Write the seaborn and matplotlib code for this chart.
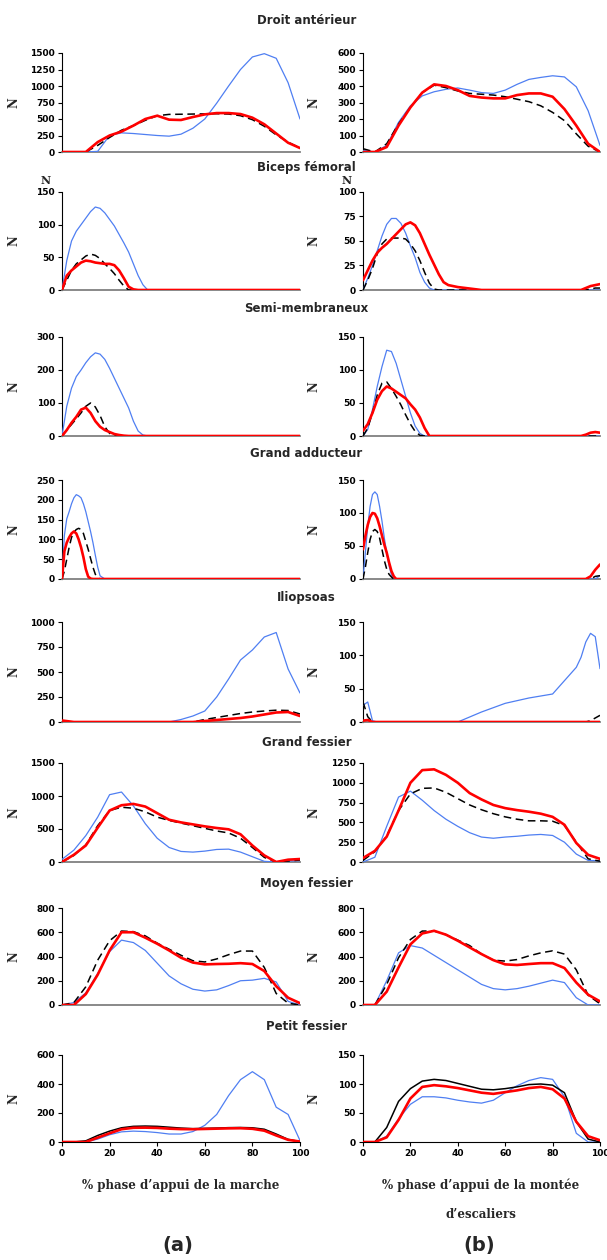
import matplotlib
matplotlib.use("Agg")
import matplotlib.pyplot as plt
import seaborn as sns

# -----------------------------------------
# x grids (% stance phase)
# -----------------------------------------
pct5 = [0, 5, 10, 15, 20, 25, 30, 35, 40, 45, 50, 55, 60, 65, 70, 75, 80, 85, 90, 95, 100]
pct_fine = [0, 2, 4, 6, 8, 10, 12, 14, 16, 18, 20, 22, 24, 26, 28, 30, 32, 34, 36, 38, 40,
            50, 60, 70, 80, 90, 92, 94, 96, 98, 100]
pct_narrow = [0, 1, 2, 3, 4, 5, 6, 7, 8, 9, 10, 11, 12, 13, 14, 15, 16,
              18, 20, 30, 40, 50, 60, 70, 80, 90, 92, 94, 96, 98, 100]

muscles = ["Droit antérieur", "Biceps fémoral", "Semi-membraneux", "Grand adducteur",
           "Iliopsoas", "Grand fessier", "Moyen fessier", "Petit fessier"]

# -----------------------------------------
# Droit antérieur (N)
# -----------------------------------------
da_w_blue = [0, 0, 0, 10, 250, 290, 280, 265, 250, 240, 270, 360, 500, 740, 1000, 1250, 1440, 1490, 1420, 1050, 500]
da_w_red = [0, 0, 0, 150, 250, 310, 400, 500, 550, 490, 485, 530, 570, 590, 590, 575, 520, 420, 280, 140, 60]
da_w_black = [0, 0, 0, 100, 220, 330, 400, 480, 550, 570, 572, 575, 578, 580, 575, 550, 490, 390, 260, 150, 60]
da_s_blue = [10, 0, 40, 180, 280, 340, 365, 380, 388, 375, 360, 355, 375, 410, 440, 452, 462, 455, 395, 250, 40]
da_s_red = [0, 0, 30, 160, 270, 360, 410, 400, 375, 340, 330, 325, 325, 345, 355, 355, 335, 260, 160, 50, 0]
da_s_black = [20, 0, 50, 170, 270, 360, 405, 390, 370, 355, 350, 345, 335, 320, 305, 280, 240, 190, 110, 35, 0]

# -----------------------------------------
# Biceps fémoral
# -----------------------------------------
bf_w_blue = [0, 45, 75, 90, 100, 110, 120, 127, 125, 118, 108, 98, 85, 72, 58, 40, 22, 8, 0, 0, 0,
             0, 0, 0, 0, 0, 0, 0, 0, 0, 0]
bf_w_red = [0, 22, 30, 36, 42, 45, 44, 42, 41, 40, 40, 38, 30, 18, 5, 1, 0, 0, 0, 0, 0,
            0, 0, 0, 0, 0, 0, 0, 0, 0, 0]
bf_w_black = [0, 15, 30, 40, 46, 52, 55, 53, 48, 40, 33, 25, 15, 6, 0, 0, 0, 0, 0, 0, 0,
              0, 0, 0, 0, 0, 0, 0, 0, 0, 0]
bf_s_blue = [0, 12, 25, 40, 55, 67, 73, 73, 68, 58, 45, 33, 18, 8, 2, 0, 0, 0, 0, 0, 0,
             0, 0, 0, 0, 0, 0, 0, 0, 0, 0]
bf_s_red = [10, 20, 30, 38, 43, 47, 52, 57, 62, 67, 69, 66, 58, 47, 36, 26, 16, 8, 5, 4, 3,
            0, 0, 0, 0, 0, 0, 2, 4, 5, 6]
bf_s_black = [0, 10, 22, 37, 47, 52, 53, 53, 53, 52, 47, 40, 30, 18, 7, 1, 0, 0, 0, 0, 0,
              0, 0, 0, 0, 0, 0, 0, 1, 2, 2]

# -----------------------------------------
# Semi-membraneux
# -----------------------------------------
sm_w_blue = [0, 90, 145, 180, 200, 222, 240, 252, 248, 232, 205, 175, 145, 115, 85, 45, 15, 3, 0, 0, 0,
             0, 0, 0, 0, 0, 0, 0, 0, 0, 0]
sm_w_red = [0, 18, 40, 58, 80, 86, 70, 45, 28, 18, 12, 6, 3, 1, 0, 0, 0, 0, 0, 0, 0,
            0, 0, 0, 0, 0, 0, 0, 0, 0, 0]
sm_w_black = [0, 18, 35, 52, 70, 90, 100, 88, 62, 28, 8, 0, 0, 0, 0, 0, 0, 0, 0, 0, 0,
              0, 0, 0, 0, 0, 0, 0, 0, 0, 0]
sm_s_blue = [0, 10, 40, 75, 105, 130, 128, 110, 85, 60, 35, 15, 4, 0, 0, 0, 0, 0, 0, 0, 0,
             0, 0, 0, 0, 0, 0, 0, 0, 0, 0]
sm_s_red = [8, 18, 35, 55, 68, 75, 72, 67, 62, 57, 48, 40, 28, 12, 0, 0, 0, 0, 0, 0, 0,
            0, 0, 0, 0, 0, 0, 2, 5, 6, 5]
sm_s_black = [0, 12, 35, 62, 80, 82, 72, 60, 47, 32, 18, 7, 1, 0, 0, 0, 0, 0, 0, 0, 0,
              0, 0, 0, 0, 0, 0, 0, 0, 0, 0]

# -----------------------------------------
# Grand adducteur
# -----------------------------------------
ga_w_blue = [0, 110, 152, 170, 190, 205, 213, 210, 205, 190, 170, 145, 120, 92, 60, 30, 8,
             0, 0, 0, 0, 0, 0, 0, 0, 0, 0, 0, 0, 0, 0]
ga_w_red = [0, 70, 92, 105, 115, 120, 115, 100, 80, 55, 25, 6, 1, 0, 0, 0, 0,
            0, 0, 0, 0, 0, 0, 0, 0, 0, 0, 0, 0, 0, 0]
ga_w_black = [0, 20, 50, 80, 105, 118, 125, 128, 125, 115, 95, 75, 52, 30, 12, 3, 0,
              0, 0, 0, 0, 0, 0, 0, 0, 0, 0, 0, 0, 0, 0]
ga_s_blue = [0, 40, 80, 110, 128, 132, 128, 110, 88, 62, 40, 20, 6, 1, 0, 0, 0,
             0, 0, 0, 0, 0, 0, 0, 0, 0, 0, 0, 0, 0, 5]
ga_s_red = [45, 65, 82, 94, 100, 99, 92, 80, 66, 52, 40, 25, 12, 4, 0, 0, 0,
            0, 0, 0, 0, 0, 0, 0, 0, 0, 0, 0, 4, 14, 22]
ga_s_black = [0, 18, 40, 60, 72, 75, 72, 62, 45, 28, 15, 7, 3, 0, 0, 0, 0,
              0, 0, 0, 0, 0, 0, 0, 0, 0, 0, 0, 0, 4, 5]

# -----------------------------------------
# Iliopsoas
# -----------------------------------------
il_w_blue = [0, 0, 0, 0, 0, 0, 0, 0, 0, 0, 25, 60, 110, 250, 430, 620, 720, 850, 895, 530, 290]
il_w_red = [15, 0, 0, 0, 0, 0, 0, 0, 0, 0, 0, 0, 10, 20, 30, 40, 55, 75, 95, 100, 60]
il_w_black = [0, 0, 0, 0, 0, 0, 0, 0, 0, 0, 0, 0, 25, 45, 65, 85, 100, 110, 118, 115, 80]
il_s_blue = [25, 30, 2, 0, 0, 0, 0, 0, 0, 0, 0, 0, 0, 0, 0, 0, 0, 0, 0, 0, 0,
             15, 28, 36, 42, 82, 97, 120, 133, 128, 80]
il_s_red = [2, 3, 0, 0, 0, 0, 0, 0, 0, 0, 0, 0, 0, 0, 0, 0, 0, 0, 0, 0, 0,
            0, 0, 0, 0, 0, 0, 0, 0, 0, 0]
il_s_black = [30, 8, 0, 0, 0, 0, 0, 0, 0, 0, 0, 0, 0, 0, 0, 0, 0, 0, 0, 0, 0,
              0, 0, 0, 0, 0, 0, 0, 2, 6, 10]

# -----------------------------------------
# Grand fessier
# -----------------------------------------
gf_w_blue = [40, 180, 400, 680, 1020, 1060, 850, 580, 360, 220, 160, 150, 165, 190, 195, 150, 80, 10, 0, 15, 20]
gf_w_red = [0, 110, 250, 520, 780, 860, 880, 840, 740, 640, 600, 570, 540, 515, 495, 420, 250, 100, 0, 35, 45]
gf_w_black = [0, 100, 260, 550, 780, 830, 815, 760, 680, 630, 590, 550, 510, 470, 440, 360, 220, 70, 0, 15, 30]
gf_s_blue = [0, 60, 450, 820, 895, 780, 650, 540, 450, 370, 315, 300, 315, 325, 340, 348, 335, 250, 100, 20, 15]
gf_s_red = [50, 140, 320, 650, 1000, 1160, 1170, 1100, 1000, 870, 790, 720, 680, 655, 635, 610, 570, 470, 240, 90, 40]
gf_s_black = [20, 130, 330, 650, 860, 930, 935, 880, 800, 720, 660, 610, 570, 540, 520, 520, 515, 460, 250, 40, 10]

# -----------------------------------------
# Moyen fessier
# -----------------------------------------
mf_w_blue = [0, 20, 100, 260, 440, 535, 515, 450, 345, 240, 175, 130, 115, 125, 160, 200, 205, 220, 190, 30, 0]
mf_w_red = [0, 0, 90, 250, 450, 600, 600, 555, 505, 450, 390, 350, 335, 338, 340, 345, 338, 280, 155, 60, 15]
mf_w_black = [0, 20, 150, 370, 530, 610, 605, 570, 510, 460, 410, 365, 355, 380, 415, 445, 445, 310, 95, 15, 0]
mf_s_blue = [0, 0, 200, 430, 490, 470, 410, 350, 290, 230, 170, 135, 125, 135, 155, 180, 205, 185, 60, 0, 0]
mf_s_red = [0, 0, 110, 310, 500, 590, 612, 580, 530, 475, 420, 370, 335, 330, 338, 345, 345, 305, 185, 85, 30]
mf_s_black = [0, 0, 170, 390, 540, 610, 610, 580, 535, 490, 420, 370, 362, 375, 405, 430, 447, 420, 290, 80, 10]

# -----------------------------------------
# Petit fessier
# -----------------------------------------
pf_w_blue = [0, 0, 0, 20, 50, 70, 75, 72, 65, 55, 55, 72, 115, 190, 320, 430, 485, 430, 240, 190, 10]
pf_w_red = [0, 0, 0, 30, 60, 88, 98, 99, 97, 92, 89, 88, 90, 92, 94, 95, 91, 78, 45, 15, 3]
pf_w_black = [0, 0, 8, 45, 75, 98, 108, 110, 108, 102, 96, 92, 94, 96, 99, 100, 98, 88, 55, 18, 3]
pf_s_blue = [0, 0, 10, 40, 65, 78, 78, 76, 72, 69, 67, 72, 85, 97, 106, 111, 108, 78, 15, 0, 0]
pf_s_red = [0, 0, 8, 38, 75, 95, 98, 96, 93, 89, 85, 83, 86, 89, 93, 95, 91, 75, 35, 10, 3]
pf_s_black = [0, 0, 25, 70, 92, 105, 108, 106, 101, 96, 91, 90, 92, 95, 99, 100, 98, 85, 35, 5, 0]

# y ticks per panel (walk, stairs)
yticks_walk = [[0, 250, 500, 750, 1000, 1250, 1500], [0, 50, 100, 150], [0, 100, 200, 300],
               [0, 50, 100, 150, 200, 250], [0, 250, 500, 750, 1000], [0, 500, 1000, 1500],
               [0, 200, 400, 600, 800], [0, 200, 400, 600]]
yticks_stairs = [[0, 100, 200, 300, 400, 500, 600], [0, 25, 50, 75, 100], [0, 50, 100, 150],
                 [0, 50, 100, 150], [0, 50, 100, 150], [0, 250, 500, 750, 1000, 1250],
                 [0, 200, 400, 600, 800], [0, 50, 100, 150]]

# table of panels built from the lists above: (x, blue, red, black)
walk = [(pct5, da_w_blue, da_w_red, da_w_black), (pct_fine, bf_w_blue, bf_w_red, bf_w_black),
        (pct_fine, sm_w_blue, sm_w_red, sm_w_black), (pct_narrow, ga_w_blue, ga_w_red, ga_w_black),
        (pct5, il_w_blue, il_w_red, il_w_black), (pct5, gf_w_blue, gf_w_red, gf_w_black),
        (pct5, mf_w_blue, mf_w_red, mf_w_black), (pct5, pf_w_blue, pf_w_red, pf_w_black)]
stairs = [(pct5, da_s_blue, da_s_red, da_s_black), (pct_fine, bf_s_blue, bf_s_red, bf_s_black),
          (pct_fine, sm_s_blue, sm_s_red, sm_s_black), (pct_narrow, ga_s_blue, ga_s_red, ga_s_black),
          (pct_fine, il_s_blue, il_s_red, il_s_black), (pct5, gf_s_blue, gf_s_red, gf_s_black),
          (pct5, mf_s_blue, mf_s_red, mf_s_black), (pct5, pf_s_blue, pf_s_red, pf_s_black)]

# -----------------------------------------
# Layout (pixels)
# -----------------------------------------
W, H = 607, 1260
row_top = [53, 192, 337, 480, 622, 763, 908, 1055]
row_bot = [152, 290, 436, 579, 722, 862, 1005, 1142]
title_y = [20, 167, 308, 453, 597, 742, 883, 1027]
LEFT = (62, 300)
RIGHT = (363, 600)

BLUE = "#4f7ff2"
RED = "#ff0000"

sns.set_style("ticks")
plt.rcParams["font.family"] = ["DejaVu Sans"]

fig = plt.figure(figsize=(W / 100, H / 100), dpi=100)


def add_ax(xs, top, bot):
    return fig.add_axes([xs[0] / W, 1 - bot / H, (xs[1] - xs[0]) / W, (bot - top) / H])


def draw_panel(ax, data, ticks, last, label_x):
    x, blue, red, black = data
    sns.lineplot(x=x, y=blue, ax=ax, color=BLUE, linewidth=0.9, zorder=3)
    if last:
        sns.lineplot(x=x, y=black, ax=ax, color="black", linewidth=1.1, zorder=4)
    else:
        sns.lineplot(x=x, y=black, ax=ax, color="black", linewidth=1.1,
                     linestyle=(0, (5, 3)), zorder=4)
    sns.lineplot(x=x, y=red, ax=ax, color=RED, linewidth=1.9, zorder=5)

    ax.set_xlim(0, 100)
    ax.set_ylim(0, ticks[-1])
    ax.set_yticks(ticks, labels=[str(t) for t in ticks], fontweight="bold", fontsize=6.5)
    sns.despine(ax=ax)
    ax.spines["left"].set_linewidth(0.8)
    ax.spines["left"].set_color("black")
    if last:
        ax.set_xticks([0, 20, 40, 60, 80, 100], labels=["0", "20", "40", "60", "80", "100"],
                      fontweight="bold", fontsize=6.5)
        ax.spines["bottom"].set_color("black")
        ax.spines["bottom"].set_linewidth(0.8)
    else:
        ax.set_xticks([])
        ax.spines["bottom"].set_color("#808080")
        ax.spines["bottom"].set_linewidth(1.3)
    ax.tick_params(direction="out", length=3, width=0.8, pad=2, colors="black")
    ax.set_xlabel("")
    ax.set_ylabel("N", fontfamily="DejaVu Serif", fontweight="bold", fontsize=8.5)
    pos = ax.get_position()
    ax.yaxis.set_label_coords((label_x / W - pos.x0) / pos.width, 0.5)


for i in range(8):
    axl = add_ax(LEFT, row_top[i], row_bot[i])
    axr = add_ax(RIGHT, row_top[i], row_bot[i])
    draw_panel(axl, walk[i], yticks_walk[i], i == 7, 20)
    draw_panel(axr, stairs[i], yticks_stairs[i], i == 7, 320)
    fig.text(0.505, 1 - title_y[i] / H, muscles[i], ha="center", va="center",
             fontweight="bold", fontsize=8.5)

# extra upright "N" above the biceps panels
for xp in (46, 347):
    fig.text(xp / W, 1 - 181 / H, "N", ha="center", va="center",
             fontfamily="DejaVu Serif", fontweight="bold", fontsize=8)

serif = dict(fontfamily="DejaVu Serif", fontweight="bold", fontsize=8.5, ha="center", va="center")
fig.text(181 / W, 1 - 1185 / H, "% phase d’appui de la marche", **serif)
fig.text(481 / W, 1 - 1185 / H, "% phase d’appui de la montée", **serif)
fig.text(481 / W, 1 - 1214 / H, "d’escaliers", **serif)
fig.text(178 / W, 1 - 1246 / H, "(a)", ha="center", va="center", fontweight="bold", fontsize=14)
fig.text(479 / W, 1 - 1246 / H, "(b)", ha="center", va="center", fontweight="bold", fontsize=14)

fig.savefig("out.png", dpi=100)
